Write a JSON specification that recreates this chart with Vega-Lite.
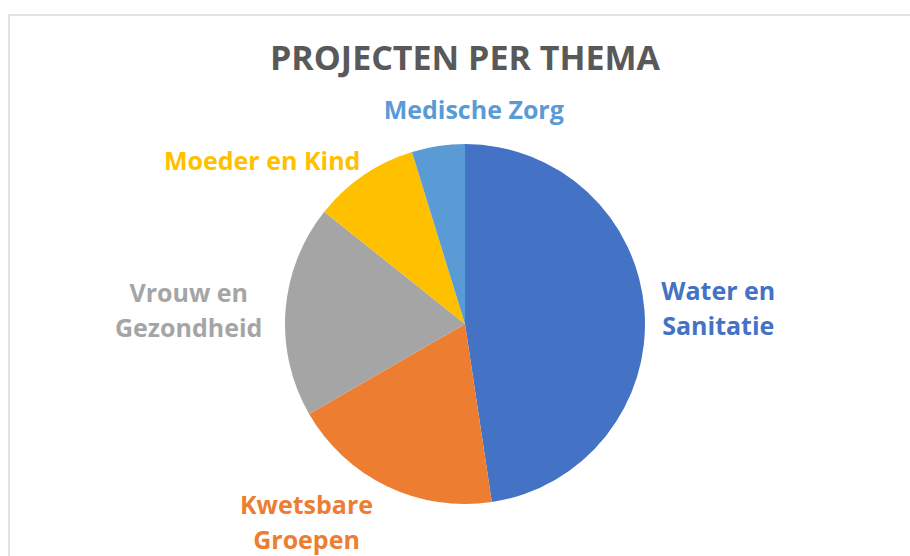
{
  "$schema": "https://vega.github.io/schema/vega-lite/v6.json",
  "width": 912,
  "height": 618,
  "autosize": {"type": "none"},
  "padding": {"left": 9, "top": 15, "right": 0, "bottom": 0},
  "background": "white",
  "view": {"stroke": "#D9D9D9", "strokeWidth": 1.5},
  "config": {
    "font": "Open Sans"
  },
  "title": {
    "text": "PROJECTEN PER THEMA",
    "font": "Open Sans",
    "fontSize": 34,
    "fontWeight": "bold",
    "color": "#595959",
    "anchor": "middle",
    "frame": "group",
    "baseline": "alphabetic",
    "offset": -89
  },
  "data": {
    "values": [
      {"theme": "Water en Sanitatie", "label": "Water en\nSanitatie", "projects": 10, "rank": 1},
      {"theme": "Kwetsbare Groepen", "label": "Kwetsbare\nGroepen", "projects": 4, "rank": 2},
      {"theme": "Vrouw en Gezondheid", "label": "Vrouw en\nGezondheid", "projects": 4, "rank": 3},
      {"theme": "Moeder en Kind", "label": "Moeder en Kind", "projects": 2, "rank": 4},
      {"theme": "Medische Zorg", "label": "Medische Zorg", "projects": 1, "rank": 5}
    ]
  },
  "encoding": {
    "theta": {"field": "projects", "type": "quantitative", "stack": true},
    "order": {"field": "rank", "type": "quantitative"},
    "color": {
      "field": "theme",
      "type": "nominal",
      "legend": null,
      "scale": {
        "domain": ["Water en Sanitatie", "Kwetsbare Groepen", "Vrouw en Gezondheid", "Moeder en Kind", "Medische Zorg"],
        "range": ["#4472C4", "#ED7D31", "#A5A5A5", "#FFC000", "#5B9BD5"]
      }
    }
  },
  "layer": [
    {
      "mark": {"type": "arc", "outerRadius": 180}
    },
    {
      "mark": {"type": "text", "radius": 250, "fontSize": 25, "fontWeight": "bold", "lineBreak": "\n", "lineHeight": 35, "align": "center", "baseline": "middle", "dx": 4, "dy": -13},
      "encoding": {
        "text": {"condition": {"test": "datum.theme === 'Water en Sanitatie'", "field": "label"}, "value": ""}
      }
    },
    {
      "mark": {"type": "text", "radius": 250, "fontSize": 25, "fontWeight": "bold", "lineBreak": "\n", "lineHeight": 35, "align": "center", "baseline": "middle", "dx": -50, "dy": -43},
      "encoding": {
        "text": {"condition": {"test": "datum.theme === 'Kwetsbare Groepen'", "field": "label"}, "value": ""}
      }
    },
    {
      "mark": {"type": "text", "radius": 250, "fontSize": 25, "fontWeight": "bold", "lineBreak": "\n", "lineHeight": 35, "align": "center", "baseline": "middle", "dx": -27, "dy": -11},
      "encoding": {
        "text": {"condition": {"test": "datum.theme === 'Vrouw en Gezondheid'", "field": "label"}, "value": ""}
      }
    },
    {
      "mark": {"type": "text", "radius": 250, "fontSize": 25, "fontWeight": "bold", "lineBreak": "\n", "lineHeight": 35, "align": "center", "baseline": "middle", "dx": -62, "dy": 45},
      "encoding": {
        "text": {"condition": {"test": "datum.theme === 'Moeder en Kind'", "field": "label"}, "value": ""}
      }
    },
    {
      "mark": {"type": "text", "radius": 250, "fontSize": 25, "fontWeight": "bold", "lineBreak": "\n", "lineHeight": 35, "align": "center", "baseline": "middle", "dx": 46, "dy": 34},
      "encoding": {
        "text": {"condition": {"test": "datum.theme === 'Medische Zorg'", "field": "label"}, "value": ""}
      }
    }
  ]
}
